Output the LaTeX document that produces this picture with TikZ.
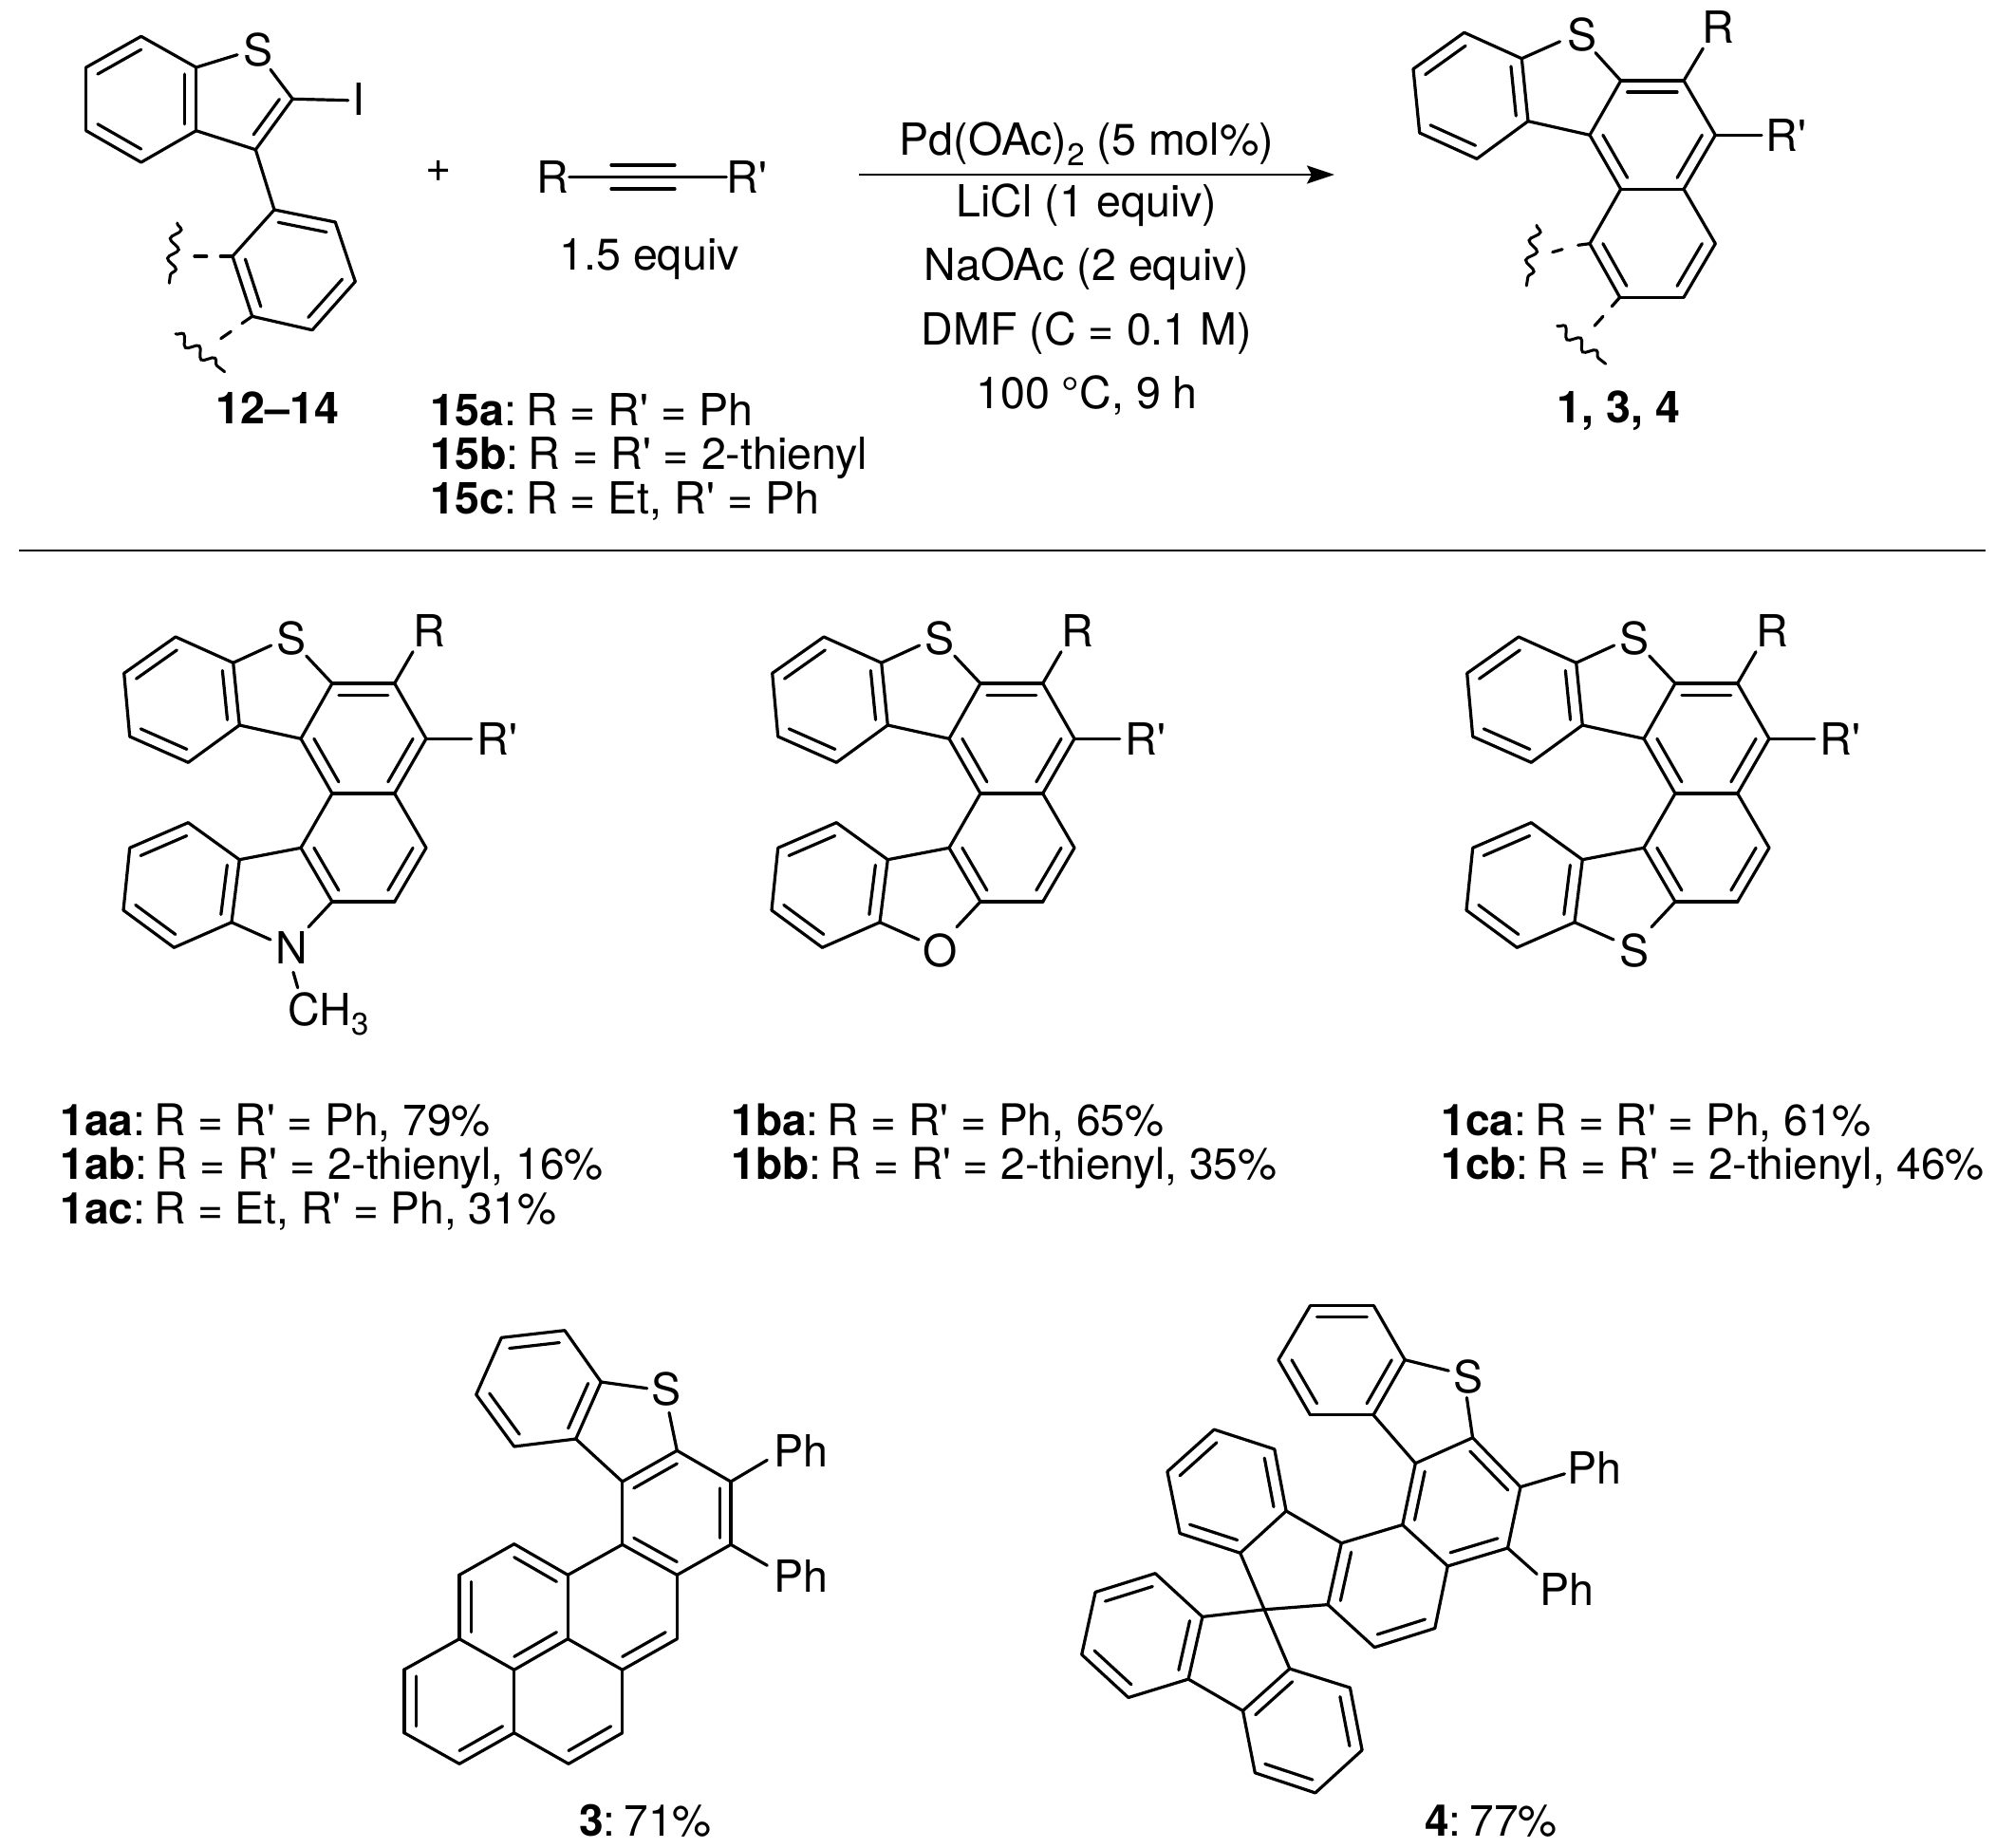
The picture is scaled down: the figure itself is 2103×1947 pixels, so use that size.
\documentclass[tikz,border=0pt]{standalone}
\usepackage{fontspec}
\usetikzlibrary{calc,arrows.meta,decorations.pathmorphing}
\newfontfamily\hv{TeX Gyre Heros}
\newcommand\at[3]{\coordinate (#1) at (#2,#3);}
\newcommand\bonds[1]{\foreach \pa/\pb in {#1} {\draw[bond] (\pa)--(\pb);}}
\newcommand\dbl[4][0.21]{\draw[bond] ($(#2)!#1!(#4)$)--($(#3)!#1!(#4)$);}
\newcommand\cen[3]{\coordinate (#1) at ($(#2)!.5!(#3)$);}
\newcommand\wave[2]{\draw[wavy] (#1)--(#2);}
\newcommand\lowr[1]{\raisebox{-0.22em}{\fontsize{16.5}{16.5}\selectfont #1}}
\newcommand\tag[1]{\textbf{#1}:\hspace{4.5pt}}
\tikzset{
 bond/.style={line width=1.6pt,line cap=round,line join=round,black},
 wavy/.style={line width=1.5pt,line cap=round,decorate,decoration={snake,segment length=10.5pt,amplitude=2.6pt}},
 atomlab/.style={inner sep=0pt,font=\hv\fontsize{23.3}{23.3}\selectfont},
 lab/.style={atomlab,anchor=base west},
 yield/.style={inner sep=0pt,anchor=base west,font=\hv\fontsize{23.05}{23.05}\selectfont},
 cond/.style={atomlab,anchor=base},
}
\newcommand\helcore{%
 \at{q1}{185}{671}\at{q2}{130.7}{709.3}\at{q3}{136.7}{776}\at{q4}{198.3}{803.3}\at{q5}{252.3}{764}\at{q6}{245.7}{698.3}
 \at{c7}{350}{720}\at{c8}{415.7}{720}\at{c9}{449}{778.3}\at{c10}{415.7}{836}\at{c11}{350}{836}\at{c12}{317}{778.3}
 \at{c13}{317}{893.3}\at{c14}{350}{950}\at{c15}{415.7}{950}\at{c16}{449}{893.3}
 \at{n5}{252.3}{905.7}\at{n6}{198.3}{866.7}\at{n7}{136.7}{893.3}\at{n8}{130}{959}\at{n9}{183.3}{998.3}\at{n10}{244}{971.7}
 \at{sa}{285.7}{680}\at{sb}{322.7}{691}\at{rb}{435}{686.7}\at{rpb}{496.7}{778.3}\at{xa}{285}{990}\at{xb}{325}{976.7}
 \cen{ra}{q1}{q4}\cen{rb0}{c7}{c10}\cen{rc}{c11}{c15}\cen{rd}{n6}{n9}
 \bonds{q1/q2,q2/q3,q3/q4,q4/q5,q5/q6,q6/q1,q6/sa,sb/c7,q5/c12,c7/c8,c8/c9,c9/c10,c10/c11,c11/c12,c12/c7,c11/c13,c13/c14,c14/c15,c15/c16,c16/c10,c13/n5,n5/n6,n6/n7,n7/n8,n8/n9,n9/n10,n10/n5,n10/xa,c14/xb,c8/rb,c9/rpb}
 \dbl{q1}{q2}{ra}\dbl{q3}{q4}{ra}\dbl{q5}{q6}{ra}
 \dbl{c7}{c8}{rb0}\dbl{c9}{c10}{rb0}\dbl{c11}{c12}{rb0}
 \dbl{c13}{c14}{rc}\dbl{c15}{c16}{rc}
 \dbl{n5}{n10}{rd}\dbl{n6}{n7}{rd}\dbl{n8}{n9}{rd}
 \node[atomlab] (sulf) at (307.3,673) {S};
 \node[atomlab] (rr) at (452.3,664.5) {R};
 \node[atomlab,anchor=west] (rp) at (502,779) {R'};
}
\begin{document}
\begin{tikzpicture}[x=0.5pt,y=-0.5pt,hv/.style={}]
\useasboundingbox (0,0) rectangle (2103,1947);
\fill[white] (0,0) rectangle (2103,1947);

%% ---------- starting material 12-14
\at{a1}{148.7}{38.3}\at{a2}{90.7}{71}\at{a3}{90.7}{137.7}\at{a4}{148.7}{171}\at{a5}{206.7}{137.7}\at{a6}{206.7}{71}
\at{ac2}{308.3}{104.3}\at{ac3}{269.3}{157.7}\at{as}{250}{57.7}\at{as2}{285}{73.3}\at{ai}{366.7}{105.7}
\at{b1}{289}{221}\at{b2}{353.3}{234}\at{b3}{374.3}{296.7}\at{b4}{329}{347.7}\at{b5}{265.7}{333.3}\at{b6}{245}{270}
\cen{ra}{a1}{a4}\cen{rb}{b1}{b4}\coordinate (rt) at (262,105);
\bonds{a1/a2,a2/a3,a3/a4,a4/a5,a5/a6,a6/a1,a6/as,as2/ac2,ac2/ac3,ac3/a5,ac2/ai,ac3/b1,b1/b2,b2/b3,b3/b4,b4/b5,b5/b6,b6/b1}
\dbl{a1}{a2}{ra}\dbl{a3}{a4}{ra}\dbl{a5}{a6}{ra}\dbl[0.3]{ac2}{ac3}{rt}
\dbl{b1}{b2}{rb}\dbl{b3}{b4}{rb}\dbl{b5}{b6}{rb}
\node[atomlab] (atomS) at (271.7,52.3) {S};
\node[atomlab] (atomI) at (378.3,105) {I};
\at{d1}{232.3}{270}\at{d2}{217.7}{270}\at{d3}{205}{270}
\draw[bond] (b6)--(d1); \draw[bond] (d2)--(d3);
\at{w1}{186.7}{235}\at{w2}{178.3}{298.3}\wave{w1}{w2}
\at{d4}{255}{340.7}\at{d5}{243.3}{349.3}\at{d6}{232.7}{356.7}
\draw[bond] (b5)--(d4); \draw[bond] (d5)--(d6);
\at{w3}{185}{351.7}\at{w4}{236.7}{391.7}\wave{w3}{w4}
\node[lab,anchor=base,font=\hv\bfseries\fontsize{23.3}{23.3}\selectfont] (l1214) at (292.4,446) {12–14};

%% ---------- plus and alkyne
\node[atomlab] (plus) at (462,180) {+};
\node[atomlab] (tr) at (582.6,186.6) {R};
\node[atomlab] (trp) at (787,186.6) {R'};
\draw[bond] (tr.east)--(trp.west);
\at{t1}{644}{174}\at{t2}{711}{174}\at{t3}{644}{199}\at{t4}{711}{199}
\draw[bond] (t1)--(t2); \draw[bond] (t3)--(t4);
\node[atomlab] (eq) at (684,272.6) {1.5 equiv};
\node[lab] (l15a) at (453,448) {\textbf{15a}:\hspace{5pt}R = R' = Ph};
\node[lab] (l15b) at (453,494.5) {\textbf{15b}:\hspace{5pt}R = R' = 2-thienyl};
\node[lab] (l15c) at (453,541) {\textbf{15c}:\hspace{5pt}R = Et, R' = Ph};

%% ---------- conditions
\at{ar1}{905}{184}\at{ar2}{1406}{184}
\draw[line width=1.35pt,-{Stealth[length=14.5pt,width=9.5pt,inset=2.5pt]}] (ar1)--(ar2);
\node[cond] (c1) at (1145,164) {Pd(OAc)\lowr{2} (5 mol\%)};
\node[cond] (c2) at (1145,229) {LiCl (1 equiv)};
\node[cond] (c3) at (1145,296) {NaOAc (2 equiv)};
\node[cond] (c4) at (1145,364) {DMF (C = 0.1 M)};
\node[cond] (c5) at (1145,430) {100 °C, 9 h};

%% ---------- product 1,3,4
\at{p1}{1542.7}{34.3}\at{p2}{1489}{72.7}\at{p3}{1495.7}{140}\at{p4}{1556}{167.3}\at{p5}{1610}{127.7}\at{p6}{1603.3}{61.7}
\at{e7p}{1707.7}{85}\at{e8p}{1774}{85}\at{e9p}{1807.3}{142.3}\at{e10p}{1774}{199.3}\at{e11p}{1707.7}{199.3}\at{e12p}{1675}{142.3}
\at{e13p}{1675}{256.7}\at{e14p}{1706.7}{313.3}\at{e15p}{1774}{313.3}\at{e16p}{1807.3}{256.7}
\at{ps1}{1643.5}{43.8}\at{ps2}{1681}{55.6}\at{prb}{1794.3}{51}\at{prp}{1856}{142.3}
\cen{rp1}{p1}{p4}\cen{rp2}{e7p}{e10p}\cen{rp3}{e11p}{e15p}
\bonds{p1/p2,p2/p3,p3/p4,p4/p5,p5/p6,p6/p1,p6/ps1,ps2/e7p,p5/e12p,e7p/e8p,e8p/e9p,e9p/e10p,e10p/e11p,e11p/e12p,e12p/e7p,e11p/e13p,e13p/e14p,e14p/e15p,e15p/e16p,e16p/e10p,e8p/prb,e9p/prp}
\dbl{p1}{p2}{rp1}\dbl{p3}{p4}{rp1}\dbl{p5}{p6}{rp1}
\dbl{e7p}{e8p}{rp2}\dbl{e9p}{e10p}{rp2}\dbl{e11p}{e12p}{rp2}
\dbl{e13p}{e14p}{rp3}\dbl{e15p}{e16p}{rp3}
\node[atomlab] (pS) at (1666.7,36.7) {S};
\node[atomlab] (pR) at (1810.7,28.3) {R};
\node[atomlab,anchor=west] (pRp) at (1860.5,142.5) {R'};
\at{d7}{1662.7}{258.3}\at{d8}{1646}{262.7}\at{d9}{1635.7}{265.7}
\draw[bond] (e13p)--(d7); \draw[bond] (d8)--(d9);
\at{w5}{1619}{237.3}\at{w6}{1608.3}{301}\wave{w5}{w6}
\at{d10}{1698.3}{322.7}\at{d11}{1689}{333.3}\at{d12}{1680}{343.3}
\draw[bond] (e14p)--(d10); \draw[bond] (d11)--(d12);
\at{w7}{1640.7}{343.3}\at{w8}{1691.7}{383.3}\wave{w7}{w8}
\node[lab,anchor=base,font=\hv\bfseries\fontsize{23.3}{23.3}\selectfont] (l134) at (1705.5,445.7) {1, 3, 4};

%% ---------- rule
\at{ru1}{20}{580}\at{ru2}{2092}{580}
\draw[line width=1.2pt] (ru1)--(ru2);

%% ---------- 1a
\begin{scope}
\helcore
\node[atomlab] (xN) at (307.3,999) {N};
\at{m1}{309}{1024.3}\at{m2}{313.7}{1040.7}\draw[bond] (m1)--(m2);
\node[lab] (ch3) at (303,1080) {CH\lowr{3}};
\end{scope}
%% ---------- 1b
\begin{scope}[shift={(683,0)}]
\helcore
\node[atomlab] (xO) at (307.3,1001.5) {O};
\end{scope}
%% ---------- 1c
\begin{scope}[shift={(1415,0)}]
\helcore
\node[atomlab] (xS) at (307.3,1001.5) {S};
\end{scope}
\node[yield] (l1aa) at (63,1196) {\tag{1aa}R = R' = Ph, 79\%};
\node[yield] (l1ab) at (63,1242.5) {\tag{1ab}R = R' = 2-thienyl, 16\%};
\node[yield] (l1ac) at (63,1289) {\tag{1ac}R = Et, R' = Ph, 31\%};
\node[yield] (l1ba) at (770,1196) {\tag{1ba}R = R' = Ph, 65\%};
\node[yield] (l1bb) at (770,1242.5) {\tag{1bb}R = R' = 2-thienyl, 35\%};
\node[yield] (l1ca) at (1518,1196) {\tag{1ca}R = R' = Ph, 61\%};
\node[yield] (l1cb) at (1518,1242.5) {\tag{1cb}R = R' = 2-thienyl, 46\%};

%% ---------- 3
\at{m1}{595}{1401.7}\at{m2}{528.3}{1409.3}\at{m3}{501.7}{1469.3}\at{m4}{541.7}{1524}\at{m5}{606.7}{1516}\at{m6}{633.3}{1456}
\at{g7}{713.3}{1528.3}\at{g8}{770}{1561}\at{g9}{770}{1627.3}\at{g10}{713.3}{1659.3}\at{g11}{655.7}{1627.3}\at{g12}{655.7}{1561}
\at{k1}{598.3}{1659.3}\at{k2}{541.7}{1626.7}\at{k3}{484}{1659.3}\at{k4}{484}{1726.7}\at{k5}{541.7}{1759.3}\at{k6}{598.3}{1726.7}
\at{k7}{655.7}{1759.3}\at{k8}{713.3}{1726.7}\at{k9}{655.7}{1825.7}\at{k10}{599}{1858.3}\at{k11}{541.7}{1825.7}\at{k12}{484}{1858.3}\at{k13}{426}{1825.7}\at{k14}{426}{1759}
\at{ts1}{681.7}{1462.7}\at{ts2}{705}{1488.3}\at{tp1}{808.3}{1538.3}\at{tp2}{808.3}{1649.3}
\cen{r1}{m1}{m4}\cen{r2}{g7}{g10}\cen{r3}{k2}{k5}\cen{r4}{g11}{k7}\cen{r5}{k14}{k11}\cen{r6}{k6}{k10}
\bonds{m1/m2,m2/m3,m3/m4,m4/m5,m5/m6,m6/m1,m6/ts1,ts2/g7,m5/g12,g7/g8,g8/g9,g9/g10,g10/g11,g11/g12,g12/g7,g11/k1,k1/k2,k2/k3,k3/k4,k4/k5,k5/k6,k6/k1,k6/k7,k7/k8,k8/g10,k7/k9,k9/k10,k10/k11,k11/k5,k11/k12,k12/k13,k13/k14,k14/k4,g8/tp1,g9/tp2}
\dbl{m1}{m2}{r1}\dbl{m3}{m4}{r1}\dbl{m5}{m6}{r1}
\dbl{g7}{g12}{r2}\dbl{g8}{g9}{r2}\dbl{g10}{g11}{r2}
\dbl{k1}{k2}{r3}\dbl{k3}{k4}{r3}\dbl{k5}{k6}{r3}
\dbl{k7}{k8}{r4}\dbl{k9}{k10}{r6}\dbl{k11}{k12}{r5}\dbl{k13}{k14}{r5}
\node[atomlab] (tS) at (701.7,1463.3) {S};
\node[atomlab] (tPh1) at (844,1528.3) {Ph};
\node[atomlab] (tPh2) at (844,1660) {Ph};
\node[yield,anchor=base] (l3) at (680,1934) {\tag{3}71\%};

%% ---------- 4
\at{e1}{1447.4}{1375.6}\at{e2}{1380.5}{1375.6}\at{e3}{1346.9}{1432.7}\at{e4}{1380.5}{1490.8}\at{e5}{1447}{1490.8}\at{e6}{1480.2}{1432.7}
\at{e7}{1551.6}{1514.7}\at{e8}{1602}{1566.6}\at{e9}{1588.5}{1631}\at{e10}{1525.3}{1650}\at{e11}{1477.7}{1606.5}\at{e12}{1491.3}{1541.7}
\at{f1}{1413.3}{1625.8}\at{f2}{1399}{1690.6}\at{f3}{1448.2}{1735.6}\at{f4}{1511.8}{1715.5}
\at{sp}{1332.1}{1695.8}
\at{g1}{1355.1}{1591.9}\at{g2}{1342.8}{1526.8}\at{g3}{1279.2}{1506.1}\at{g4}{1229.9}{1550.4}\at{g5}{1243.1}{1615.5}\at{g6}{1306.7}{1636.2}
\at{h1}{1266.9}{1703.4}\at{h2}{1217.2}{1657.7}\at{h3}{1154.1}{1677.4}\at{h4}{1139.7}{1743.2}\at{h5}{1188.9}{1788.5}\at{h6}{1252.1}{1769.1}
\at{i1}{1309.5}{1802.4}\at{i2}{1358.8}{1758.1}\at{i3}{1422.4}{1778.1}\at{i4}{1435.1}{1843.9}\at{i5}{1385.8}{1888.9}\at{i6}{1322.3}{1867.8}
\at{fs1}{1526.2}{1444.1}\at{fs2}{1545.4}{1472.5}\at{fp1}{1648.4}{1552.8}\at{fp2}{1619.3}{1658.4}
\cen{s1}{e1}{e4}\cen{s2}{e7}{e10}\cen{s3}{f1}{f4}\cen{s4}{g1}{g4}\cen{s5}{h1}{h4}\cen{s6}{i1}{i4}
\bonds{e1/e2,e2/e3,e3/e4,e4/e5,e5/e6,e6/e1,e6/fs1,fs2/e7,e5/e12,e7/e8,e8/e9,e9/e10,e10/e11,e11/e12,e12/e7,e11/f1,f1/f2,f2/f3,f3/f4,f4/e10,f1/g1,g1/g2,g2/g3,g3/g4,g4/g5,g5/g6,g6/g1,g6/sp,sp/f2,sp/h1,sp/i2,h1/h2,h2/h3,h3/h4,h4/h5,h5/h6,h6/h1,h6/i1,i1/i2,i2/i3,i3/i4,i4/i5,i5/i6,i6/i1,e8/fp1,e9/fp2}
\dbl{e1}{e2}{s1}\dbl{e3}{e4}{s1}\dbl{e5}{e6}{s1}
\dbl{e7}{e8}{s2}\dbl{e9}{e10}{s2}\dbl{e11}{e12}{s2}
\dbl{f1}{f2}{s3}\dbl{f3}{f4}{s3}
\dbl{g1}{g2}{s4}\dbl{g3}{g4}{s4}\dbl{g5}{g6}{s4}
\dbl{h1}{h6}{s5}\dbl{h2}{h3}{s5}\dbl{h4}{h5}{s5}
\dbl{i1}{i2}{s6}\dbl{i3}{i4}{s6}\dbl{i5}{i6}{s6}
\node[atomlab] (fS) at (1547.5,1450.7) {S};
\node[atomlab] (fPh1) at (1680,1546.9) {Ph};
\node[atomlab] (fPh2) at (1650.5,1674.3) {Ph};
\node[yield,anchor=base] (l4) at (1571,1934) {\tag{4}77\%};
\end{tikzpicture}
\end{document}
